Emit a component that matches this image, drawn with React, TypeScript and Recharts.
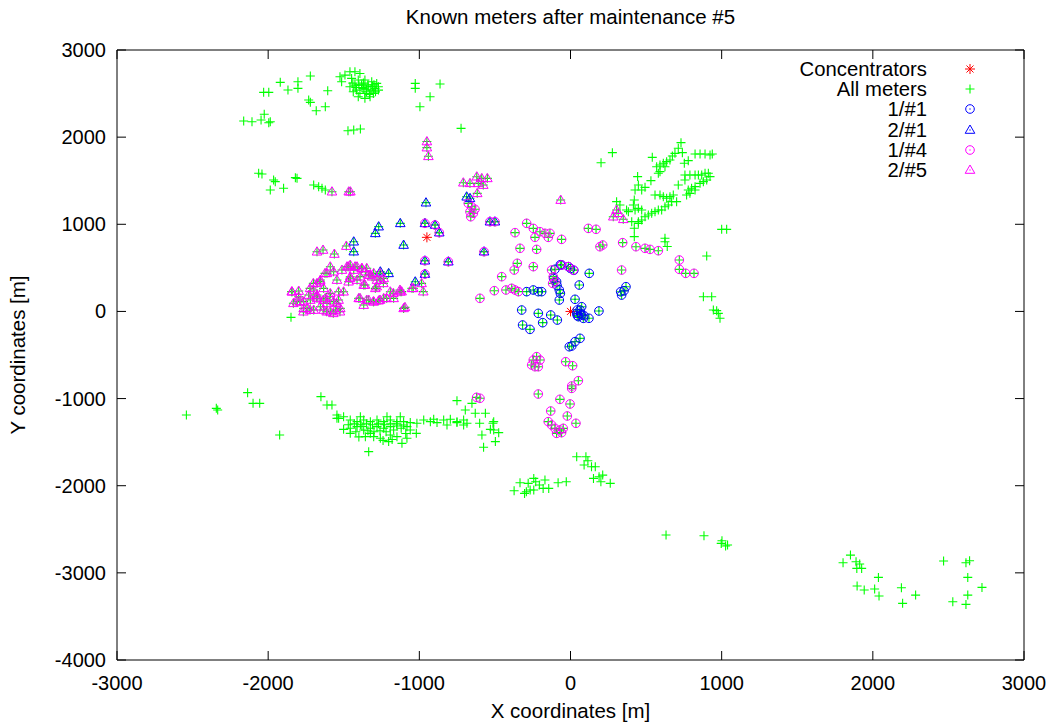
import { ScatterChart, Scatter, XAxis, YAxis, ReferenceArea } from 'recharts';

// x / y in metres
const concentrators: [number, number][] = [[-950, 850], [0, 0]];

// meters that have no extra marker on top (green only)
const meterOnly: [number, number][] = [
  [-1721, 2701], [-1920, 2629], [-1803, 2636], [-1803, 2560], [-1869, 2541], [-2030, 2514], [-1996, 2514],
  [-1606, 2533], [-1732, 2426], [-1721, 2399], [-1622, 2349], [-1682, 2303], [-2026, 2262], [-2162, 2185],
  [-2107, 2177], [-2047, 2196], [-1996, 2165], [-1986, 2177],
  [-1525, 2693], [-1492, 2712], [-1459, 2750], [-1426, 2750], [-1393, 2731], [-1448, 2674], [-1404, 2655],
  [-1360, 2655], [-1315, 2636], [-1282, 2617], [-1459, 2578], [-1426, 2597], [-1382, 2597], [-1338, 2578],
  [-1293, 2559], [-1437, 2521], [-1393, 2502], [-1349, 2521], [-1304, 2502], [-1404, 2464], [-1360, 2445],
  [-1326, 2464], [-1371, 2559], [-1415, 2540], [-1271, 2578], [-1514, 2636],
  [-1400, 2600], [-1370, 2620], [-1340, 2600], [-1310, 2580], [-1380, 2570], [-1350, 2550], [-1320, 2540],
  [-1290, 2520], [-1360, 2500], [-1330, 2490], [-1420, 2570], [-1440, 2620], [-1300, 2600], [-1270, 2540],
  [-1472, 2074], [-1434, 2082], [-1390, 2093],
  [-1027, 2617], [-1027, 2560], [-863, 2609], [-929, 2464], [-996, 2349], [-724, 2101],
  [-2063, 1585], [-2041, 1577], [-1964, 1508], [-1953, 1489], [-1986, 1393], [-1898, 1413], [-1820, 1535],
  [-1809, 1527], [-1699, 1451], [-1666, 1432], [-1644, 1413], [-1622, 1393],
  [-1849, -68],
  [731, 1937], [713, 1872], [691, 1814], [674, 1784], [658, 1738], [636, 1719], [614, 1700], [592, 1680],
  [570, 1661], [625, 1661], [592, 1604], [581, 1585], [740, 1822], [753, 1700], [779, 1730], [824, 1807],
  [857, 1807], [890, 1807], [923, 1795], [938, 1807], [541, 1768], [277, 1822], [202, 1707], [444, 1547],
  [532, 1501], [449, 1451], [427, 1394], [471, 1394], [493, 1424], [713, 1451], [757, 1508], [757, 1566],
  [790, 1566], [824, 1566], [846, 1566], [868, 1566], [890, 1585], [912, 1585], [923, 1547], [901, 1508],
  [879, 1489], [857, 1470], [824, 1432], [801, 1413], [779, 1394], [768, 1336], [790, 1355], [824, 1394],
  [559, 1336], [592, 1336], [614, 1317], [636, 1298], [658, 1317], [680, 1336], [702, 1260], [669, 1260],
  [647, 1221], [625, 1202], [603, 1164], [581, 1164], [559, 1145], [537, 1126], [515, 1107], [493, 1087],
  [471, 1049], [449, 1030], [427, 1164], [449, 1183], [471, 1164], [422, 1279], [416, 1221], [383, 1145],
  [405, 1030], [422, 954], [422, 858], [305, 1260], [327, 1221], [371, 1164], [1000, 942], [1033, 942],
  [625, 839], [625, 800], [640, 745], [449, 1011],
  [901, 636], [879, 169], [934, 169], [945, 16], [978, -22], [989, -79], [967, 9],
  [-2541, -1188], [-2343, -1112], [-2334, -1131], [-2136, -932], [-2100, -1055], [-2056, -1055], [-1924, -1418],
  [-1651, -978], [-1611, -1074], [-1578, -1074], [-1545, -1188], [-1534, -1227], [-1335, -1609], [-1203, -1494],
  [-1115, -1514], [-1020, -1399], [-751, -1024], [-696, -1131], [-652, -1055], [-630, -1169], [-563, -1169],
  [-601, -1284], [-586, -1418], [-575, -1559], [-497, -1494], [-530, -1353], [-508, -1360], [-475, -1391],
  [-513, -1284], [-508, -1265], [-685, -1284], [-751, -1265], [-707, -1246],
  [-1545, -1227], [-1501, -1208], [-1457, -1246], [-1412, -1265], [-1368, -1246], [-1324, -1265], [-1280, -1246],
  [-1236, -1265], [-1192, -1246], [-1148, -1265], [-1104, -1265], [-1060, -1276], [-1457, -1341], [-1412, -1322],
  [-1368, -1361], [-1324, -1341], [-1280, -1322], [-1236, -1341], [-1192, -1322], [-1148, -1315], [-1104, -1303],
  [-1501, -1353], [-1457, -1399], [-1357, -1437], [-1302, -1437], [-1258, -1456], [-1148, -1437], [-1082, -1456],
  [-1016, -1284], [-971, -1246], [-927, -1265], [-883, -1276], [-839, -1246], [-795, -1238], [-751, -1276],
  [-707, -1303], [-905, -1238], [-817, -1303], [-1390, -1208], [-1214, -1208], [-1126, -1208], [-1082, -1322],
  [-1324, -1399], [-1192, -1418],
  [-1430, -1290], [-1390, -1300], [-1350, -1290], [-1310, -1300], [-1270, -1290], [-1230, -1300], [-1190, -1290],
  [-1150, -1290], [-1120, -1340], [-1170, -1360], [-1220, -1380], [-1260, -1370], [-1300, -1380], [-1340, -1370],
  [-1380, -1320], [-1420, -1380], [-1470, -1300], [-1400, -1440], [-1240, -1480], [-1180, -1470], [-1090, -1400],
  [-1060, -1360],
  [41, -1667], [102, -1667], [115, -1713], [90, -1763], [139, -1782], [164, -1782], [152, -1916], [189, -1897],
  [213, -1878], [201, -1954], [263, -1973], [-334, -1966], [-373, -2057], [-280, -1973], [-292, -2069],
  [-304, -2088], [-243, -1916], [-230, -1954], [-206, -1992], [-169, -1935], [-144, -2031], [-82, -1966],
  [-28, -1954], [-243, -2050], [-181, -2031], [-267, -2050],
  [632, -2566], [883, -2574], [1002, -2631], [997, -2662], [1039, -2681], [1026, -2692],
  [1803, -2884], [1852, -2796], [1889, -2872], [1913, -2899], [1894, -2949], [1926, -2949], [2037, -3052],
  [1896, -3151], [1943, -3197], [2012, -3186], [2041, -3266], [2189, -3171], [2197, -3350], [2283, -3255],
  [2468, -2864], [2616, -2884], [2640, -2861], [2628, -3052], [2722, -3167], [2628, -3255], [2529, -3331],
  [2616, -3362],
];

const sel1_1: [number, number][] = [
  [124, 437], [58, 303], [30, 139], [-74, 246], [-74, 131], [-92, 341], [-246, 246], [-213, 227], [-191, 227],
  [-290, 227], [-323, 16], [-268, -206], [-317, -156], [-213, -22], [-184, -129], [-131, -41], [-87, -99],
  [63, 16], [52, -60], [74, 54], [41, -22], [85, -79], [74, -41], [122, -79], [188, 5], [338, 188], [354, 238],
  [367, 284], [332, 226], [63, -309], [30, -347], [8, -397], [-8, -405], [-103, 483], [-67, 536], [0, 493],
  [22, 472], [-112, 376], [-89, 297], [-67, 207], [45, 16], [67, -21], [89, -48], [45, -48], [-59, 533],
  [-14, 514],
];

const sel2_1: [number, number][] = [
  [-1269, 973], [-1291, 896], [-1126, 1011], [-1104, 762], [-1434, 800], [-1434, 686], [-1258, 456],
  [-1203, 437], [-1027, 341], [-956, 1248], [-963, 1011], [-896, 992], [-868, 904], [-963, 582], [-808, 571],
  [-963, 429], [-572, 686], [-533, 1030], [-500, 1030], [-687, 1316], [-665, 1298],
];

const sel1_4: [number, number][] = [
  [-963, 1011], [-896, 992], [-868, 904], [-963, 582], [-808, 571], [-963, 429], [-572, 686], [-533, 1030],
  [-500, 1030], [-676, 1240], [-654, 1201], [-665, 1144], [-643, 1126], [-660, 1087], [-632, 1172],
  [-367, 904], [-290, 1011], [-246, 953], [-202, 915], [-169, 896], [-136, 896], [-235, 850], [-147, 850],
  [-59, 827], [-334, 724], [-224, 712], [-352, 552], [-372, 475], [-246, 514], [-455, 399], [-504, 238],
  [-599, 150], [118, 953], [169, 942], [195, 743], [213, 762], [345, 789], [433, 743], [493, 724], [526, 712],
  [581, 697], [720, 590], [720, 483], [762, 437], [817, 437], [338, 475], [-427, 246], [-389, 265], [-367, 246],
  [-345, 227], [-125, 475], [-114, 399], [-118, 322], [-103, 341], [-59, 533], [-14, 514], [19, 475],
  [-246, -558], [-224, -519], [-202, -558], [-257, -615], [-235, -634], [-213, -634], [-32, -577], [14, -623],
  [52, -795], [8, -883], [8, -856], [-213, -948], [-70, -1009], [-3, -1062], [-131, -1143], [-21, -1200],
  [36, -1284], [-147, -1265], [-125, -1303], [-103, -1342], [-70, -1361], [-92, -1399], [-48, -1342],
  [-59, -1391], [-621, -986], [-599, -997],
];

const sel2_5: [number, number][] = [
  [-1842, 226], [-1798, 234], [-1765, 112], [-1809, 112], [-1732, 188], [-1699, 246], [-1677, 322], [-1655, 360],
  [-1633, 265], [-1611, 437], [-1589, 513], [-1567, 456], [-1545, 360], [-1589, 207], [-1622, 150], [-1677, 150],
  [-1655, 54], [-1699, 16], [-1743, 35], [-1567, 112], [-1534, 131], [-1523, 35], [-1556, 16], [-1589, -3],
  [-1512, 475], [-1479, 513], [-1457, 398], [-1457, 532], [-1434, 475], [-1412, 513], [-1379, 494], [-1357, 456],
  [-1335, 418], [-1313, 398], [-1302, 437], [-1280, 360], [-1258, 360], [-1236, 379], [-1412, 360], [-1368, 303],
  [-1291, 265], [-1401, 150], [-1368, 73], [-1335, 131], [-1302, 112], [-1269, 123], [-1236, 150], [-1192, 226],
  [-1170, 150], [-1126, 226], [-1104, 35], [-1049, 265], [-1501, 226], [-1534, 226], [-1468, 341], [-1677, 188],
  [-1721, 131], [-1765, 35], [-1798, 169], [-1611, 92], [-1633, 16], [-1844, 227], [-1833, 93], [-1789, 112],
  [-1767, -3], [-1723, 16], [-1613, -3], [-1569, -22], [-1525, -3], [-1392, 150], [-1348, 131], [-1304, 112],
  [-1260, 131], [-1216, 150], [-1172, 208], [-1128, 246], [-1359, 303], [-1282, 284], [-1238, 322], [-1458, 380],
  [-1392, 399], [-1326, 418], [-1260, 437], [-1470, 514], [-1425, 514], [-1381, 495], [-1348, 495], [-1624, 437],
  [-1657, 342], [-1701, 322], [-1723, 265], [-1679, 169], [-1635, 131], [-1591, 169], [-1547, 93],
  [-1117, 227], [-1095, 47], [-1040, 265], [-985, 322], [-974, 227],
  [-1677, 685], [-1637, 705], [-1562, 659], [-1483, 750], [-1578, 1374], [-1467, 1374], [-1456, 1374],
  [-950, 1950], [-950, 1880], [-940, 1780], [-709, 1477], [-665, 1470], [-620, 1546], [-587, 1527], [-550, 1527],
  [-610, 1470], [-577, 1450], [-617, 1355], [-65, 1278], [283, 1087], [305, 1164], [316, 1126], [349, 1057],
];

const xTicks = [-3000, -2000, -1000, 0, 1000, 2000, 3000];
const yTicks = [-4000, -3000, -2000, -1000, 0, 1000, 2000, 3000];

const toPts = (arr: [number, number][]) => arr.map(([x, y]) => ({ x, y }));
const allMeters = toPts([...meterOnly, ...sel1_1, ...sel2_1, ...sel1_4, ...sel2_5]);

const BOX = { left: 117, right: 1024, top: 50, bottom: 660 };
const FONT = '"Liberation Sans", Arial, sans-serif';
const GREEN = '#00ff00';
const BLUE = '#0000ff';
const MAGENTA = '#ff00ff';
const RED = '#ff0000';

const plusMark = (cx: number, cy: number) => (
  <path d={`M${cx - 4.5},${cy}h9M${cx},${cy - 4.5}v9`} stroke={GREEN} strokeWidth={1.1} fill="none" />
);
const circleMark = (cx: number, cy: number, color: string) => (
  <g>
    <circle cx={cx} cy={cy} r={4.3} stroke={color} strokeWidth={1} fill="none" />
    <circle cx={cx} cy={cy} r={0.7} fill={color} />
  </g>
);
const triMark = (cx: number, cy: number, color: string) => (
  <g>
    <path d={`M${cx},${cy - 5}L${cx + 4.8},${cy + 3.3}L${cx - 4.8},${cy + 3.3}Z`} stroke={color} strokeWidth={1} fill="none" />
    <circle cx={cx} cy={cy} r={0.7} fill={color} />
  </g>
);
const starMark = (cx: number, cy: number) => (
  <path
    d={`M${cx - 5},${cy}h10M${cx},${cy - 5}v10M${cx - 3.5},${cy - 3.5}l7,7M${cx - 3.5},${cy + 3.5}l7,-7`}
    stroke={RED}
    strokeWidth={1}
    fill="none"
  />
);

const XTick = (props: any) => {
  const { x, payload } = props;
  return (
    <g>
      <line x1={x} x2={x} y1={BOX.bottom} y2={BOX.bottom - 9} stroke="#000" />
      <line x1={x} x2={x} y1={BOX.top} y2={BOX.top + 9} stroke="#000" />
      <text x={x} y={BOX.bottom + 30} textAnchor="middle" fontSize={20} fontFamily={FONT} fill="#000">
        {payload.value}
      </text>
    </g>
  );
};

const YTick = (props: any) => {
  const { y, payload } = props;
  return (
    <g>
      <line x1={BOX.left} x2={BOX.left + 9} y1={y} y2={y} stroke="#000" />
      <line x1={BOX.right} x2={BOX.right - 9} y1={y} y2={y} stroke="#000" />
      <text x={BOX.left - 11} y={y + 7} textAnchor="end" fontSize={20} fontFamily={FONT} fill="#000">
        {payload.value}
      </text>
    </g>
  );
};

const legendRows = [
  { label: 'Concentrators', mark: (cx: number, cy: number) => starMark(cx, cy) },
  { label: 'All meters', mark: (cx: number, cy: number) => plusMark(cx, cy) },
  { label: '1/#1', mark: (cx: number, cy: number) => circleMark(cx, cy, BLUE) },
  { label: '2/#1', mark: (cx: number, cy: number) => triMark(cx, cy, BLUE) },
  { label: '1/#4', mark: (cx: number, cy: number) => circleMark(cx, cy, MAGENTA) },
  { label: '2/#5', mark: (cx: number, cy: number) => triMark(cx, cy, MAGENTA) },
];

const App = () => {
  return (
    <div style={{ position: 'absolute', left: 0, top: 0, width: 1059, height: 728, background: '#fff', fontFamily: FONT }}>
      <ScatterChart width={1059} height={728} margin={{ top: 50, right: 35, bottom: 28, left: 57 }}>
        <XAxis
          dataKey="x"
          type="number"
          domain={[-3000, 3000]}
          ticks={xTicks}
          allowDataOverflow
          height={40}
          axisLine={false}
          tickLine={false}
          tickSize={0}
          tick={<XTick />}
        />
        <YAxis
          dataKey="y"
          type="number"
          domain={[-4000, 3000]}
          ticks={yTicks}
          allowDataOverflow
          width={60}
          axisLine={false}
          tickLine={false}
          tickSize={0}
          tick={<YTick />}
        />
        <ReferenceArea x1={-3000} x2={3000} y1={-4000} y2={3000} fill="none" stroke="#000" strokeWidth={1} fillOpacity={0} />
        <Scatter data={toPts(concentrators)} isAnimationActive={false} shape={(p: any) => starMark(p.cx, p.cy)} />
        <Scatter data={allMeters} isAnimationActive={false} shape={(p: any) => plusMark(p.cx, p.cy)} />
        <Scatter data={toPts(sel1_1)} isAnimationActive={false} shape={(p: any) => circleMark(p.cx, p.cy, BLUE)} />
        <Scatter data={toPts(sel2_1)} isAnimationActive={false} shape={(p: any) => triMark(p.cx, p.cy, BLUE)} />
        <Scatter data={toPts(sel1_4)} isAnimationActive={false} shape={(p: any) => circleMark(p.cx, p.cy, MAGENTA)} />
        <Scatter data={toPts(sel2_5)} isAnimationActive={false} shape={(p: any) => triMark(p.cx, p.cy, MAGENTA)} />
      </ScatterChart>

      <div style={{ position: 'absolute', left: 0, top: 5, width: 1141, textAlign: 'center', fontSize: 20.5 }}>
        Known meters after maintenance #5
      </div>
      <div style={{ position: 'absolute', left: 0, top: 699, width: 1141, textAlign: 'center', fontSize: 20.5 }}>
        X coordinates [m]
      </div>
      <div
        style={{
          position: 'absolute',
          left: 18 - 150,
          top: 355 - 12,
          width: 300,
          height: 24,
          lineHeight: '24px',
          textAlign: 'center',
          fontSize: 20.5,
          transform: 'rotate(-90deg)',
        }}
      >
        Y coordinates [m]
      </div>

      {legendRows.map((row, i) => (
        <div key={row.label} style={{ position: 'absolute', left: 700, top: 58 + i * 20.2, width: 300, height: 22 }}>
          <div style={{ position: 'absolute', right: 73, top: 0, fontSize: 20.3, lineHeight: '22px', whiteSpace: 'nowrap' }}>
            {row.label}
          </div>
          <svg style={{ position: 'absolute', left: 260, top: 0 }} width={20} height={22}>
            {row.mark(10, 11)}
          </svg>
        </div>
      ))}
    </div>
  );
};

export default App;
